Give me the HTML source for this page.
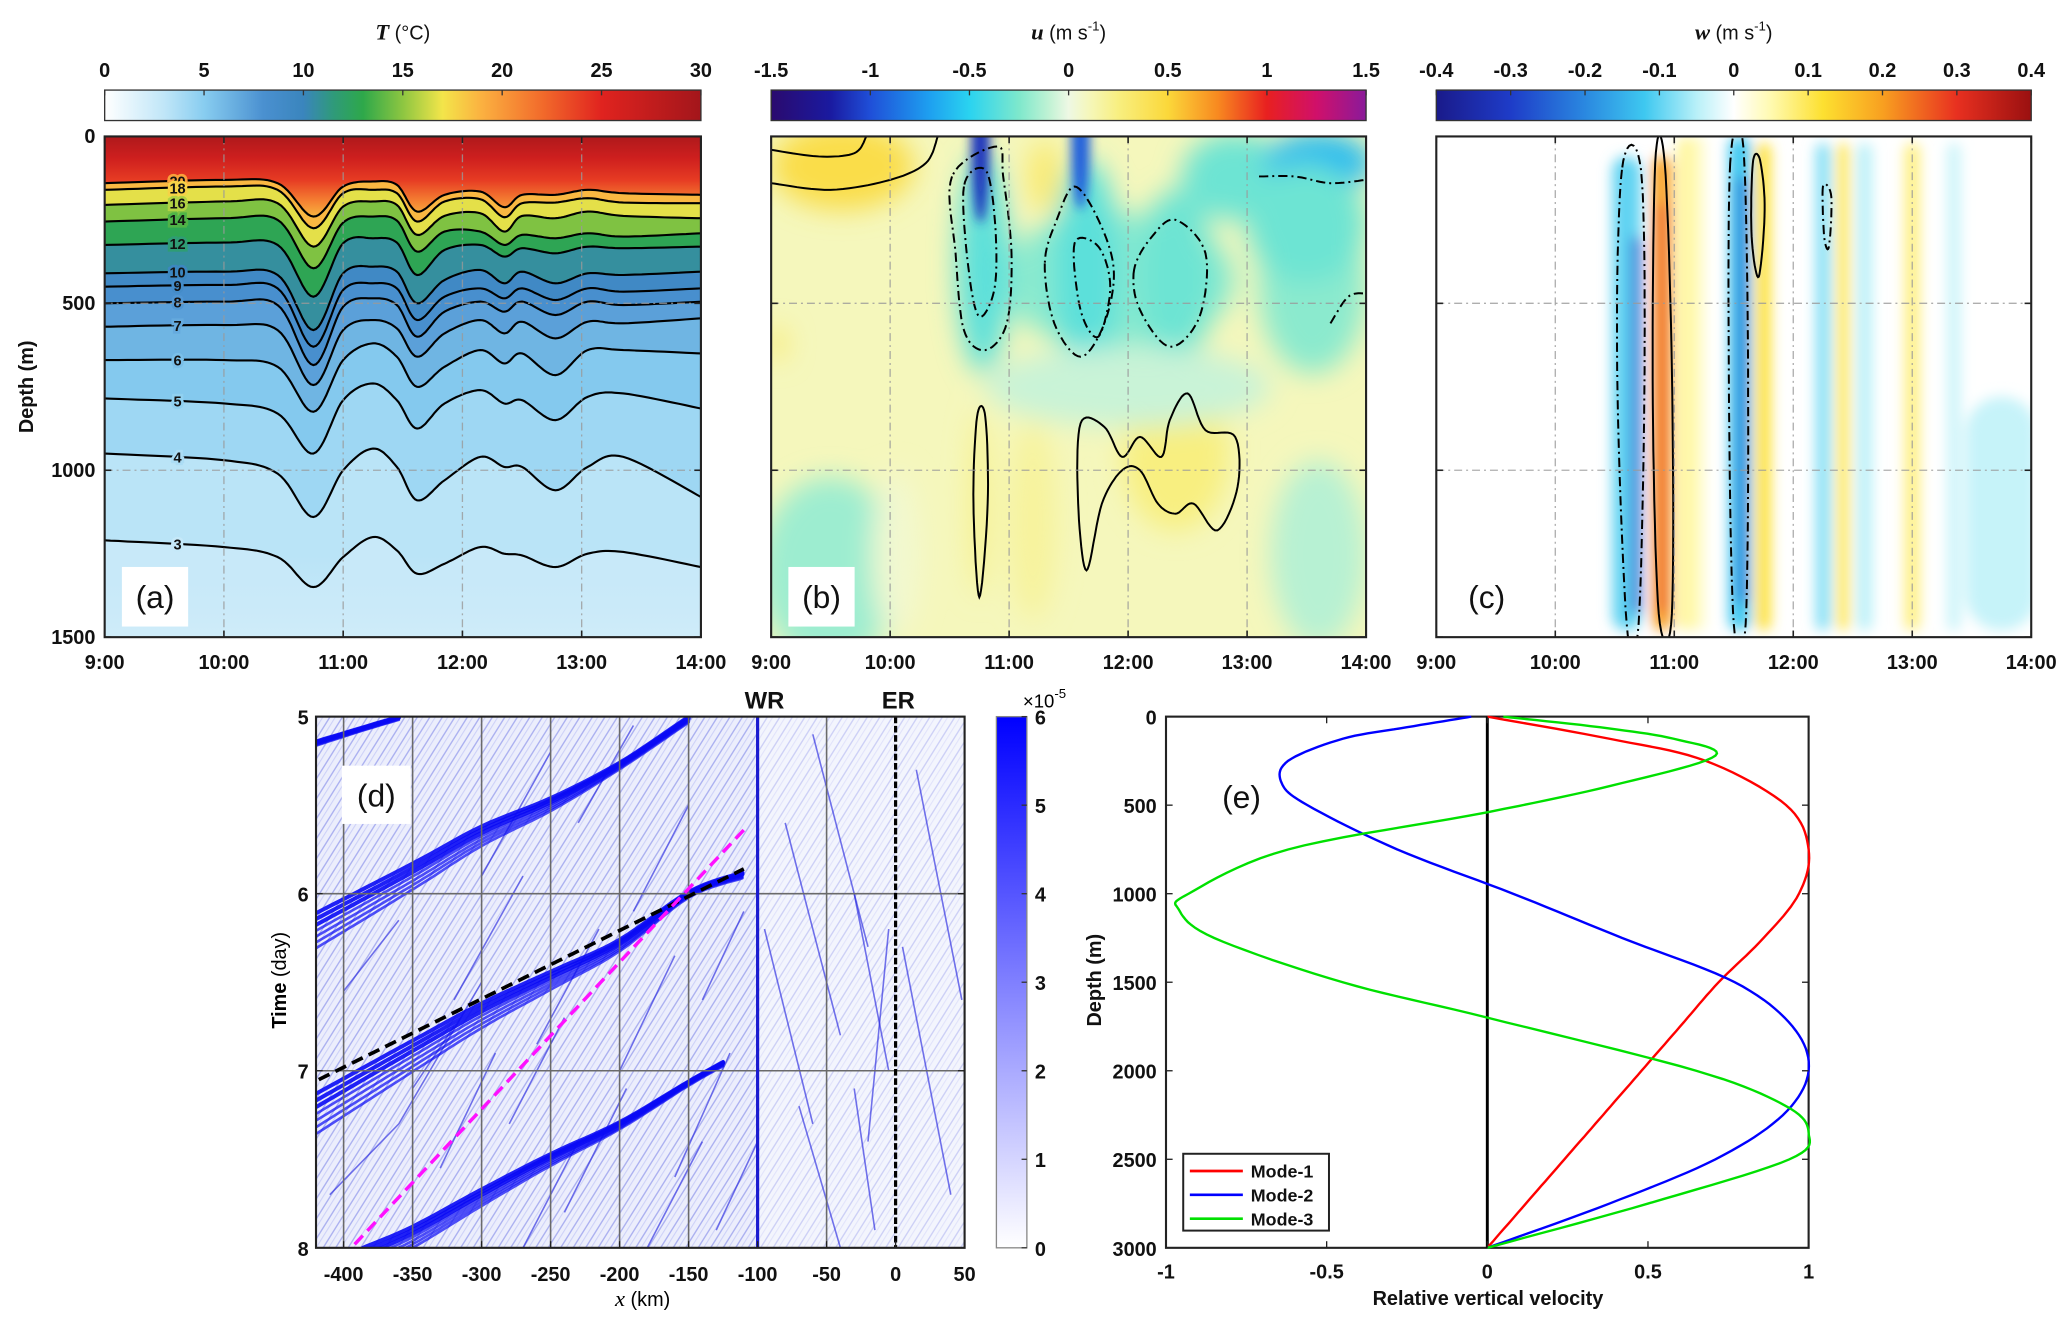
<!DOCTYPE html>
<html><head><meta charset="utf-8">
<style>
html,body{margin:0;padding:0;background:#fff;}
svg{display:block;font-family:"Liberation Sans",Arial,sans-serif;}
.tk{font-size:15px;font-weight:bold;fill:#111;}
.lb{font-size:15px;font-weight:bold;fill:#111;}
</style></head>
<body>
<svg id="fig" width="2067" height="1322" viewBox="0 0 1560 998" preserveAspectRatio="none" xmlns="http://www.w3.org/2000/svg">
<defs>
<filter id="blurB" x="-50%" y="-50%" width="200%" height="200%"><feGaussianBlur stdDeviation="10"/></filter>
<filter id="blurB2" x="-50%" y="-50%" width="200%" height="200%"><feGaussianBlur stdDeviation="4"/></filter>
<filter id="blurC" x="-50%" y="-20%" width="200%" height="140%"><feGaussianBlur stdDeviation="5"/></filter>
<clipPath id="clipA"><rect x="79" y="103" width="450" height="378"/></clipPath>
<clipPath id="clipB"><rect x="582" y="103" width="449" height="378"/></clipPath>
<clipPath id="clipC"><rect x="1084" y="103" width="449" height="378"/></clipPath>
<clipPath id="clipD"><rect x="238.5" y="541" width="489.5" height="401"/></clipPath>
<pattern id="texD" width="8" height="8" patternUnits="userSpaceOnUse" patternTransform="rotate(-58)">
<rect width="8" height="8" fill="#eceefc"/>
<line x1="0" y1="2" x2="8" y2="2" stroke="#a9aef0" stroke-width="1"/>
<line x1="0" y1="5.5" x2="8" y2="5.5" stroke="#cdd1f8" stroke-width="0.8"/>
</pattern>
</defs>
<g id="root"></g>
</svg>
<script>
// ---------- data: panel (a) isotherms ----------
const timesA = [9,10,10.45,10.75,11.0,11.25,11.45,11.62,11.85,12.15,12.35,12.5,12.78,13.05,13.35,14];
const isoTemps = [20,18,16,14,12,10,9,8,7,6,5,4,3];
const iso20 = [140,130,140,240,150,135,145,225,175,165,212,175,175,160,170,175];
const iso18 = [160,150,160,275,170,160,170,255,195,188,242,200,198,185,198,200];
const iso16 = [205,195,200,330,210,195,205,295,238,230,285,238,245,225,238,245];
const iso14 = [255,245,250,395,258,240,252,345,285,285,325,295,305,290,300,290];
const iso12 = [325,318,325,480,320,305,318,415,340,325,360,335,350,330,335,330];
const iso10 = [410,405,415,580,410,390,405,500,430,400,440,405,440,410,415,405];
const iso9  = [450,445,455,630,460,440,455,550,480,455,485,455,490,455,465,455];
const iso8  = [500,495,505,685,510,485,505,600,525,495,525,495,535,495,505,495];
const iso7  = [570,565,580,745,580,550,575,660,590,550,590,555,605,555,560,545];
const iso6  = [670,670,690,825,670,620,660,750,690,640,680,650,715,640,640,650];
const iso5  = [785,800,830,950,790,740,790,875,800,760,800,790,850,780,770,815];
const iso4  = [950,970,1010,1140,1000,935,990,1090,1030,960,990,990,1060,990,960,1080];
const iso3  = [1210,1230,1260,1350,1260,1200,1240,1310,1280,1230,1250,1255,1290,1250,1245,1290];
const isoDepths = [iso20,iso18,iso16,iso14,iso12,iso10,iso9,iso8,iso7,iso6,iso5,iso4,iso3];

// ---------- data: panel (b) u blobs [time, depth, rt(h), rd(m), u] ----------
const blobT = [9.6,11.9,10.78,11.65,12.4,12.9,13.6,13.55,12.4,10.75,9.5,13.6,11.2,9.05,11.3,10.05,12.0,13.5];
const blobD = [90,430,380,400,420,120,80,450,950,1100,1300,1250,1150,620,120,1250,750,260];
const blobRT = [0.6,1.0,0.22,0.28,0.32,0.45,0.45,0.45,0.45,0.07,0.6,0.4,0.2,0.08,0.15,0.2,1.2,0.5];
const blobRD = [130,200,330,330,260,130,90,260,230,280,280,280,300,50,110,250,120,180];
const blobU = [0.45,-0.22,-0.35,-0.35,-0.3,-0.3,-0.6,-0.22,0.25,0.25,-0.18,-0.12,0.18,0.3,0.3,0.05,-0.08,-0.3];
const jetT = [10.76,11.6];
const jetTop = [0,0];
const jetBot = [260,220];
const jetU = [-1.1,-0.95];

const contB = [
 {style:'dd', closed:true, pts:[[10.52,120],[10.55,350],[10.62,580],[10.8,640],[10.98,560],[11.02,350],[10.95,120],[10.9,30]]},
 {style:'dd', closed:true, pts:[[10.62,150],[10.66,400],[10.75,540],[10.88,450],[10.88,250],[10.8,100]]},
 {style:'dd', closed:true, pts:[[11.3,380],[11.38,560],[11.6,660],[11.8,560],[11.88,400],[11.75,250],[11.55,150],[11.4,250]]},
 {style:'dd', closed:true, pts:[[11.55,320],[11.6,520],[11.75,600],[11.85,450],[11.75,330]]},
 {style:'dd', closed:true, pts:[[12.05,400],[12.1,520],[12.35,630],[12.6,540],[12.65,350],[12.4,250],[12.2,300]]},
 {style:'dd', closed:false, pts:[[13.1,120],[13.4,120],[13.7,140],[14,130]]},
 {style:'dd', closed:false, pts:[[13.7,560],[13.85,480],[14,470]]},
 {style:'s', closed:false, pts:[[9,140],[9.5,160],[10,130],[10.3,80],[10.4,0]]},
 {style:'s', closed:false, pts:[[9,40],[9.4,60],[9.7,50],[9.8,0]]},
 {style:'s', closed:true, pts:[[10.73,840],[10.7,1100],[10.75,1380],[10.82,1100],[10.8,840]]},
 {style:'s', closed:true, pts:[[11.6,860],[11.58,1100],[11.65,1300],[11.78,1100],[11.95,1000],[12.1,1000],[12.25,1100],[12.4,1130],[12.55,1100],[12.75,1180],[12.92,1050],[12.9,900],[12.65,880],[12.5,770],[12.35,850],[12.28,960],[12.1,900],[11.95,960],[11.8,870]]}
];

// ---------- data: panel (c) w stripes ----------
const strT = [10.6,10.9,11.1,11.55,11.75,12.25,12.42,12.6,13.0,13.35,13.75,10.68,10.9,11.57,11.2];
const strW = [0.12,0.08,0.08,0.09,0.06,0.06,0.05,0.06,0.06,0.05,0.3,0.035,0.035,0.035,0.05];
const strTop = [60,60,0,0,20,20,20,20,20,20,780,300,200,120,0];
const strBot = [1480,1480,1480,1480,1480,1480,1480,1480,1480,1480,1480,1430,1430,1400,1480];
const strVal = [-0.1,0.2,0.06,-0.12,0.12,-0.08,0.1,-0.05,0.08,-0.04,-0.04,-0.28,0.28,-0.26,0.04];
const contC = [
 {style:'dd', pts:[[10.56,100],[10.52,700],[10.6,1460],[10.7,1460],[10.75,700],[10.72,100]]},
 {style:'s', pts:[[10.84,80],[10.82,800],[10.87,1430],[10.98,1430],[10.98,700],[10.92,80]]},
 {style:'dd', pts:[[11.47,80],[11.46,800],[11.5,1460],[11.6,1460],[11.62,700],[11.58,30]]},
 {style:'s', pts:[[11.66,80],[11.65,300],[11.71,420],[11.76,220],[11.72,70]]},
 {style:'dd', pts:[[12.25,150],[12.26,300],[12.3,330],[12.32,180]]}
];

// ---------- data: panel (d) ----------
const band0 = [[-420,5.14],[-390,5.07],[-360,5.0]];
const band1 = [[-420,6.11],[-350,5.83],[-300,5.62],[-250,5.46],[-200,5.26],[-150,5.0]];
const band2 = [[-420,7.13],[-350,6.83],[-300,6.62],[-250,6.44],[-200,6.26],[-150,5.99],[-111,5.88]];
const band3 = [[-386,8.0],[-350,7.88],[-300,7.67],[-250,7.47],[-200,7.29],[-150,7.06],[-125,6.95]];
const bandSpread = [0.12,0.22,0.22,0.16];
const streaks = [
 [[-330,7.55],[-290,6.9]],[[-320,6.6],[-270,5.9]],[[-300,5.9],[-250,5.2]],[[-260,6.85],[-215,6.2]],
 [[-240,7.8],[-195,7.1]],[[-200,7.0],[-160,6.35]],[[-190,6.1],[-150,5.5]],[[-160,7.6],[-120,6.9]],
 [[-270,8.0],[-230,7.4]],[[-400,6.55],[-360,6.15]],[[-410,7.7],[-360,7.3]],[[-230,5.6],[-190,5.05]],
 [[-140,6.6],[-110,6.1]],[[-350,7.1],[-320,6.75]],[[-180,8.0],[-140,7.4]],[[-360,7.3],[-300,6.5]],
 [[-280,7.3],[-240,6.7]],[[-130,7.9],[-100,7.4]],
 [[-95,6.2],[-60,7.3]],[[-80,5.6],[-40,6.8]],[[-60,5.1],[-20,6.3]],[[-30,6.0],[-5,7.0]],
 [[-20,7.4],[-5,6.2]],[[5,6.3],[40,7.7]],[[15,5.3],[48,6.6]],[[-70,7.2],[-40,8.0]],[[-15,7.9],[-30,7.1]]
];
const dashBlack = [[-418,7.05],[-110,5.86]];
const dashMagenta = [[-392,7.98],[-110,5.64]];

// ---------- data: panel (e) ----------
const m1z = [0,125,250,500,750,1000,1250,1500,1750,2000,2250,2500,2750,3000];
const m1v = [0,0.38,0.68,0.93,1.0,0.97,0.86,0.72,0.6,0.48,0.36,0.24,0.12,0];
const m2z = [0,60,125,250,375,500,750,1000,1250,1500,1750,2000,2250,2500,2750,3000];
const m2v = [-0.05,-0.25,-0.45,-0.62,-0.64,-0.56,-0.28,0.08,0.42,0.77,0.95,1.0,0.92,0.71,0.38,0];
const m3z = [0,60,125,220,375,540,750,1000,1090,1250,1500,1700,2000,2200,2350,2500,2750,3000];
const m3v = [0.05,0.35,0.58,0.71,0.42,0,-0.62,-0.93,-0.96,-0.85,-0.45,0,0.65,0.93,1.0,0.94,0.5,0];

const cmT = [[0,'#ffffff'],[3,'#c0e6f8'],[5,'#88cdf0'],[8,'#4a90d0'],[10,'#3a85bd'],[11.5,'#2f9a7a'],[13,'#2ea84a'],[15,'#8dc641'],[17,'#f3e54a'],[19,'#fbb040'],[22,'#f26b2b'],[25,'#e0231f'],[30,'#a3161b']];
const cmU = [[-1.5,'#2a0a6e'],[-1.2,'#1a1aa0'],[-1,'#1f4fd8'],[-0.7,'#1ea0f0'],[-0.5,'#2ad3f0'],[-0.25,'#7ee8cc'],[-0.1,'#c0f2d4'],[0,'#eef8e4'],[0.1,'#f5f7bc'],[0.25,'#f8ef80'],[0.5,'#fbd83a'],[0.75,'#f88a20'],[1,'#e82020'],[1.25,'#d0106a'],[1.5,'#8a1a9a']];
const cmW = [[-0.4,'#1a1a8a'],[-0.3,'#1e3cc8'],[-0.2,'#2a88e0'],[-0.12,'#3ec8f0'],[-0.05,'#b8f0f8'],[0,'#ffffff'],[0.05,'#fffab0'],[0.12,'#fde030'],[0.2,'#f8a020'],[0.3,'#e83020'],[0.4,'#9a1010']];
const cmD = [[0,'#ffffff'],[6,'#0000ff']];

const NS='http://www.w3.org/2000/svg';
const root=document.getElementById('root');
function mk(tag,attrs,parent){const e=document.createElementNS(NS,tag);for(const k in attrs)e.setAttribute(k,attrs[k]);(parent||root).appendChild(e);return e;}
function hex(c){return [parseInt(c.slice(1,3),16),parseInt(c.slice(3,5),16),parseInt(c.slice(5,7),16)];}
function cmap(cm,v){if(v<=cm[0][0])return cm[0][1];if(v>=cm[cm.length-1][0])return cm[cm.length-1][1];
 for(let i=0;i<cm.length-1;i++){if(v>=cm[i][0]&&v<=cm[i+1][0]){const f=(v-cm[i][0])/(cm[i+1][0]-cm[i][0]);const a=hex(cm[i][1]),b=hex(cm[i+1][1]);
 return 'rgb('+a.map((x,j)=>Math.round(x+(b[j]-x)*f)).join(',')+')';}}}
function catmull(p,closed,n){n=n||10;const out=[];const L=p.length;
 const g=i=>closed?p[(i+L)%L]:p[Math.max(0,Math.min(L-1,i))];
 const segs=closed?L:L-1;
 for(let i=0;i<segs;i++){const p0=g(i-1),p1=g(i),p2=g(i+1),p3=g(i+2);
  for(let k=0;k<n;k++){const t=k/n,t2=t*t,t3=t2*t;
   out.push([0.5*((2*p1[0])+(-p0[0]+p2[0])*t+(2*p0[0]-5*p1[0]+4*p2[0]-p3[0])*t2+(-p0[0]+3*p1[0]-3*p2[0]+p3[0])*t3),
             0.5*((2*p1[1])+(-p0[1]+p2[1])*t+(2*p0[1]-5*p1[1]+4*p2[1]-p3[1])*t2+(-p0[1]+3*p1[1]-3*p2[1]+p3[1])*t3)]);}}
 if(!closed)out.push(p[L-1]);return out;}
function pstr(pts){return pts.map((q,i)=>(i?'L':'M')+q[0].toFixed(1)+','+q[1].toFixed(1)).join('');}
function gradient(id,cm,vert){const lg=mk('linearGradient',{id:id,x1:0,y1:vert?1:0,x2:vert?0:1,y2:0},document.querySelector('defs'));
 const a=cm[0][0],b=cm[cm.length-1][0];cm.forEach(s=>mk('stop',{offset:(s[0]-a)/(b-a),'stop-color':s[1]},lg));}
function txt(x,y,s,cls,anchor,parent){const t=mk('text',{x:x,y:y,'class':cls||'tk','text-anchor':anchor||'middle'},parent);t.textContent=s;return t;}

const PX=[79,582,1084], PW=[450,449,449], PY0=103, PY1=481;
function tx(i,t){return PX[i]+(t-9)/5*PW[i];}
function dy(d){return PY0+d/1500*(PY1-PY0);}
const timeTicks=[9,10,11,12,13,14], timeLabels=['9:00','10:00','11:00','12:00','13:00','14:00'];
const depthTicks=[0,500,1000,1500];

// ===== Panel A =====
const gA=mk('g',{'clip-path':'url(#clipA)'});


const lgA=mk('linearGradient',{id:'gA',x1:0,y1:dy(0),x2:0,y2:dy(260),gradientUnits:'userSpaceOnUse'},document.querySelector('defs'));
[[0,29],[0.25,26.5],[0.5,24],[0.75,21],[1,18]].forEach(s=>mk('stop',{offset:s[0],'stop-color':cmap(cmT,s[1])},lgA));
const bgA=mk('rect',{x:79,y:103,width:450,height:378,fill:'url(#gA)'},gA);


const isoPts=isoDepths.map(arr=>catmull(timesA.map((t,j)=>[tx(0,t),dy(arr[j])]),false,12));
for(let i=0;i<isoPts.length;i++){
 const upper=isoPts[i];
 const lower=i<isoPts.length-1?isoPts[i+1]:[[tx(0,9),dy(1500)],[tx(0,14),dy(1500)]];
 const tMid=i<isoPts.length-1?(isoTemps[i]+isoTemps[i+1])/2-0.3:2.6;
 const poly=upper.concat(lower.slice().reverse());
 const b=mk('path',{d:pstr(poly)+'Z',fill:cmap(cmT,tMid)},gA);
 
 
}
const lgA2=mk('linearGradient',{id:'gA2',x1:0,y1:dy(1250),x2:0,y2:dy(1500),gradientUnits:'userSpaceOnUse'},document.querySelector('defs'));
mk('stop',{offset:0,'stop-color':'#c6e8f8','stop-opacity':0},lgA2);mk('stop',{offset:1,'stop-color':'#cfecf9','stop-opacity':1},lgA2);
mk('rect',{x:79,y:dy(1250),width:450,height:dy(1500)-dy(1250),fill:'url(#gA2)'},gA);
isoPts.forEach((pts,i)=>{const l=mk('path',{d:pstr(pts),fill:'none',stroke:'#000','stroke-width':1.6},gA);
 
 
 const arr=isoDepths[i];const dl=arr[0]+(arr[1]-arr[0])*0.55;
 const lbl=txt(134,dy(dl)+4,String(isoTemps[i]),'tk','middle',gA);
 lbl.setAttribute('style','font-size:11px;paint-order:stroke;stroke:'+cmap(cmT,isoTemps[i]-0.3)+';stroke-width:4px');
 
 });

// ===== Panel B =====
const gB=mk('g',{'clip-path':'url(#clipB)'});


mk('rect',{x:582,y:103,width:449,height:378,fill:cmap(cmU,0.1)},gB);
const gBb=mk('g',{filter:'url(#blurB)'},gB);
blobT.forEach((t,i)=>{const e=mk('ellipse',{cx:tx(1,t),cy:dy(blobD[i]),rx:blobRT[i]/5*449,ry:blobRD[i]/1500*378,fill:cmap(cmU,blobU[i])},gBb);
 
 });
const gBj=mk('g',{filter:'url(#blurB2)'},gB);
jetT.forEach((t,i)=>{const e=mk('ellipse',{cx:tx(1,t),cy:dy(jetTop[i]),rx:7,ry:dy(jetBot[i])-dy(jetTop[i]),fill:cmap(cmU,jetU[i])},gBj);
 
 });
contB.forEach((c,i)=>{const pts=catmull(c.pts.map(q=>[tx(1,q[0]),dy(q[1])]),c.closed,10);
 const p=mk('path',{d:pstr(pts)+(c.closed?'Z':''),fill:'none',stroke:'#000','stroke-width':1.5,'stroke-dasharray':c.style==='dd'?'7,3,1.5,3':'none'},gB);
 
 });

// ===== Panel C =====
const gC=mk('g',{'clip-path':'url(#clipC)'});


mk('rect',{x:1084,y:103,width:449,height:378,fill:'#fff'},gC);
const gCb=mk('g',{filter:'url(#blurC)'},gC);
strT.forEach((t,i)=>{const x0=tx(2,t-strW[i]),x1=tx(2,t+strW[i]);
 const r=mk('rect',{x:x0,y:dy(strTop[i]),width:x1-x0,height:dy(strBot[i])-dy(strTop[i]),rx:(x1-x0)/2,fill:cmap(cmW,strVal[i])},gCb);
 
 });
contC.forEach((c,i)=>{const pts=catmull(c.pts.map(q=>[tx(2,q[0]),dy(q[1])]),true,10);
 const p=mk('path',{d:pstr(pts)+'Z',fill:'none',stroke:'#000','stroke-width':1.5,'stroke-dasharray':c.style==='dd'?'7,3,1.5,3':'none'},gC);
 
 });

const cbs=[{cm:cmT,ticks:[0,5,10,15,20,25,30],lab:['0','5','10','15','20','25','30'],id:'cbT'},
 {cm:cmU,ticks:[-1.5,-1,-0.5,0,0.5,1,1.5],lab:['-1.5','-1','-0.5','0','0.5','1','1.5'],id:'cbU'},
 {cm:cmW,ticks:[-0.4,-0.3,-0.2,-0.1,0,0.1,0.2,0.3,0.4],lab:['-0.4','-0.3','-0.2','-0.1','0','0.1','0.2','0.3','0.4'],id:'cbW'}];
const titles=[['T',' (°C)'],['u',' (m s'],['w',' (m s']];
const panelNames=['a','b','c'];
for(let i=0;i<3;i++){
 const g=mk('g',{});
 
 
 [10,11,12,13].forEach(t=>mk('line',{x1:tx(i,t),x2:tx(i,t),y1:PY0,y2:PY1,stroke:'#9a9a9a','stroke-width':1,'stroke-dasharray':'6,3,1.5,3',opacity:0.8},g));
 [500,1000].forEach(d=>mk('line',{x1:PX[i],x2:PX[i]+PW[i],y1:dy(d),y2:dy(d),stroke:'#9a9a9a','stroke-width':1,'stroke-dasharray':'6,3,1.5,3',opacity:0.8},g));
 mk('rect',{x:PX[i],y:PY0,width:PW[i],height:PY1-PY0,fill:'none',stroke:'#222','stroke-width':1.6},g);
 timeTicks.forEach((t,j)=>{mk('line',{x1:tx(i,t),x2:tx(i,t),y1:PY1,y2:PY1-5,stroke:'#222','stroke-width':1.2},g);
  mk('line',{x1:tx(i,t),x2:tx(i,t),y1:PY0,y2:PY0+5,stroke:'#222','stroke-width':1.2},g);
  txt(tx(i,t),505,timeLabels[j],'tk','middle',g);});
 depthTicks.forEach(d=>{mk('line',{x1:PX[i],x2:PX[i]+5,y1:dy(d),y2:dy(d),stroke:'#222','stroke-width':1.2},g);
  mk('line',{x1:PX[i]+PW[i],x2:PX[i]+PW[i]-5,y1:dy(d),y2:dy(d),stroke:'#222','stroke-width':1.2},g);
  if(i===0)txt(72,dy(d)+5,String(d),'tk','end',g);});
 const cb=cbs[i];gradient(cb.id,cb.cm,false);
 const cbr=mk('rect',{x:PX[i],y:68,width:PW[i],height:23,fill:'url(#'+cb.id+')',stroke:'#333','stroke-width':1});
 
 
 const a=cb.cm[0][0],b=cb.cm[cb.cm.length-1][0];
 cb.ticks.forEach((v,j)=>{const x=PX[i]+(v-a)/(b-a)*PW[i];mk('line',{x1:x,x2:x,y1:68,y2:72,stroke:'#333'});
  const tt=txt(x,58,cb.lab[j]);});
 const tl=mk('text',{x:PX[i]+PW[i]/2,y:30,'text-anchor':'middle','class':'lb'});
 
 
 const s1=mk('tspan',{'font-style':'italic','font-family':'Liberation Serif, serif','font-size':'17'},tl);s1.textContent=titles[i][0];
 const s2=mk('tspan',{'font-weight':'normal'},tl);s2.textContent=titles[i][1];
 if(i>0){const s3=mk('tspan',{'font-weight':'normal','font-size':'10',dy:'-7'},tl);s3.textContent='-1';const s4=mk('tspan',{'font-weight':'normal',dy:'7'},tl);s4.textContent=')';}
 const bx=mk('rect',{x:PX[i]+13,y:428,width:50,height:45,fill:'#fff'});
 
 
 const pl=txt(PX[i]+38,459,'('+panelNames[i]+')','tk','middle');pl.setAttribute('style','font-size:24px;font-weight:normal');
 
 
}
const ylA=mk('text',{x:0,y:0,'class':'lb','text-anchor':'middle',transform:'translate(25,292) rotate(-90)'});ylA.textContent='Depth (m)';



// ===== Panel D =====
const DX0=238.5,DX1=728,DY0=541,DY1=942;
function dx(x){return DX0+(x+420)/470*(DX1-DX0);}
function dt(t){return DY0+(t-5)/3*(DY1-DY0);}
const gD=mk('g',{'clip-path':'url(#clipD)'});


mk('rect',{x:DX0,y:DY0,width:DX1-DX0,height:DY1-DY0,fill:'url(#texD)'},gD);
mk('rect',{x:dx(-100),y:DY0,width:DX1-dx(-100),height:DY1-DY0,fill:'#fff',opacity:0.4},gD);
streaks.forEach((s,i)=>{const l=mk('line',{x1:dx(s[0][0]),y1:dt(s[0][1]),x2:dx(s[1][0]),y2:dt(s[1][1]),stroke:'#2a2ae0','stroke-width':1.2,opacity:0.65},gD);
 
 });
[band0,band1,band2,band3].forEach((bd,i)=>{
 const g=mk('g',{},gD);
 
 
 const xr=bd[bd.length-1][0];
 for(let k=0;k<7;k++){
  const pts=catmull(bd.map(q=>{const f=Math.max(0.15,(xr-q[0])/300);return [dx(q[0]),dt(q[1]+bandSpread[i]*f*(k/6))];}),false,8);
  mk('path',{d:pstr(pts),fill:'none',stroke:'#0a0af5','stroke-width':k<3?3:2,opacity:k<3?0.9:0.7,'stroke-linecap':'round'},g);}
});
const gridD=mk('g',{});


const dXt=[-400,-350,-300,-250,-200,-150,-100,-50,0,50];
dXt.forEach(x=>{if(x!==-100&&x!==0&&x!==50)mk('line',{x1:dx(x),x2:dx(x),y1:DY0,y2:DY1,stroke:'#6a6a6a','stroke-width':1.2},gridD);});
[6,7].forEach(t=>mk('line',{x1:DX0,x2:DX1,y1:dt(t),y2:dt(t),stroke:'#6a6a6a','stroke-width':1.2},gridD));
const wr=mk('line',{x1:dx(-100),x2:dx(-100),y1:DY0,y2:DY1,stroke:'#1a1ad0','stroke-width':2.4});


const er=mk('line',{x1:dx(0),x2:dx(0),y1:DY0,y2:DY1,stroke:'#000','stroke-width':2.4,'stroke-dasharray':'5,2'});


const dk=mk('line',{x1:dx(dashBlack[0][0]),y1:dt(dashBlack[0][1]),x2:dx(dashBlack[1][0]),y2:dt(dashBlack[1][1]),stroke:'#000','stroke-width':2.8,'stroke-dasharray':'9,5'});


const mg=mk('line',{x1:dx(dashMagenta[0][0]),y1:dt(dashMagenta[0][1]),x2:dx(dashMagenta[1][0]),y2:dt(dashMagenta[1][1]),stroke:'#ff10ff','stroke-width':2.6,'stroke-dasharray':'9,5'});


mk('rect',{x:DX0,y:DY0,width:DX1-DX0,height:DY1-DY0,fill:'none',stroke:'#222','stroke-width':1.6});
dXt.forEach(x=>{mk('line',{x1:dx(x),x2:dx(x),y1:DY1,y2:DY1-5,stroke:'#222'});txt(dx(x),967,String(x));});
[5,6,7,8].forEach(t=>{mk('line',{x1:DX0,x2:DX0+5,y1:dt(t),y2:dt(t),stroke:'#222'});mk('line',{x1:DX1,x2:DX1-5,y1:dt(t),y2:dt(t),stroke:'#222'});txt(233,dt(t)+6,String(t),'tk','end');});
const wrT=txt(577,535,'WR','lb');wrT.setAttribute('style','font-size:18px');


const erT=txt(678,535,'ER','lb');erT.setAttribute('style','font-size:18px');


const bxD=mk('rect',{x:258,y:578,width:52,height:44,fill:'#fff'});


const plD=txt(284,609,'(d)','tk','middle');plD.setAttribute('style','font-size:24px;font-weight:normal');


const xlD=mk('text',{x:485,y:986,'text-anchor':'middle','font-size':'15'});


const xl1=mk('tspan',{'font-style':'italic','font-family':'Liberation Serif, serif','font-size':'17'},xlD);xl1.textContent='x';
const xl2=mk('tspan',{},xlD);xl2.textContent=' (km)';
const ylD=mk('text',{x:0,y:0,'text-anchor':'middle',transform:'translate(216,740) rotate(-90)','font-size':'15'});


const yd1=mk('tspan',{'font-weight':'bold'},ylD);yd1.textContent='Time';const yd2=mk('tspan',{},ylD);yd2.textContent=' (day)';
gradient('cbD',cmD,true);
const cbD=mk('rect',{x:752,y:541,width:23,height:401,fill:'url(#cbD)',stroke:'#888','stroke-width':1});


[0,1,2,3,4,5,6].forEach(v=>{const y=942-v/6*401;mk('line',{x1:771,x2:775,y1:y,y2:y,stroke:'#333'});txt(781,y+6,String(v),'tk','start');});
const cbDt=mk('text',{x:772,y:534,'font-size':'14'});


const c1=mk('tspan',{},cbDt);c1.textContent='×10';const c2=mk('tspan',{'font-size':'10',dy:'-7'},cbDt);c2.textContent='-5';

// ===== Panel E =====
const EX0=880,EX1=1365,EY0=541,EY1=942;
function ex(v){return EX0+(v+1)/2*(EX1-EX0);}
function ez(z){return EY0+z/3000*(EY1-EY0);}
const gE=mk('g',{});


mk('rect',{x:EX0,y:EY0,width:EX1-EX0,height:EY1-EY0,fill:'#fff',stroke:'#222','stroke-width':1.6},gE);
const zl=mk('line',{x1:ex(0),x2:ex(0),y1:EY0,y2:EY1,stroke:'#000','stroke-width':2.2},gE);


const modes=[[m1z,m1v,'#ff0000','Mode-1'],[m2z,m2v,'#0000ff','Mode-2'],[m3z,m3v,'#00e000','Mode-3']];
modes.forEach((m,i)=>{const pts=catmull(m[0].map((z,j)=>[ex(m[1][j]),ez(z)]),false,10);
 const p=mk('path',{d:pstr(pts),fill:'none',stroke:m[2],'stroke-width':1.8},gE);
 
 });
[-1,-0.5,0,0.5,1].forEach(v=>{mk('line',{x1:ex(v),x2:ex(v),y1:EY1,y2:EY1-5,stroke:'#222'},gE);mk('line',{x1:ex(v),x2:ex(v),y1:EY0,y2:EY0+5,stroke:'#222'},gE);txt(ex(v),965,String(v),'tk','middle',gE);});
[0,500,1000,1500,2000,2500,3000].forEach(z=>{mk('line',{x1:EX0,x2:EX0+5,y1:ez(z),y2:ez(z),stroke:'#222'},gE);mk('line',{x1:EX1,x2:EX1-5,y1:ez(z),y2:ez(z),stroke:'#222'},gE);txt(873,ez(z)+6,String(z),'tk','end',gE);});
const xlE=txt(1123,985,'Relative vertical velocity','lb');


const ylE=mk('text',{x:0,y:0,'class':'lb','text-anchor':'middle',transform:'translate(831,740) rotate(-90)'});ylE.textContent='Depth (m)';


const plE=txt(937,610,'(e)','tk','middle');plE.setAttribute('style','font-size:24px;font-weight:normal');


const lg=mk('g',{});


mk('rect',{x:893,y:871,width:110,height:58,fill:'#fff',stroke:'#222','stroke-width':1.5},lg);
modes.forEach((m,i)=>{const y=884+i*18;
 mk('line',{x1:898,x2:938,y1:y,y2:y,stroke:m[2],'stroke-width':2},lg);
 const t=txt(944,y+5,m[3],'lb','start',lg);t.setAttribute('style','font-size:13.5px');
 
 });
</script>
</body></html>
